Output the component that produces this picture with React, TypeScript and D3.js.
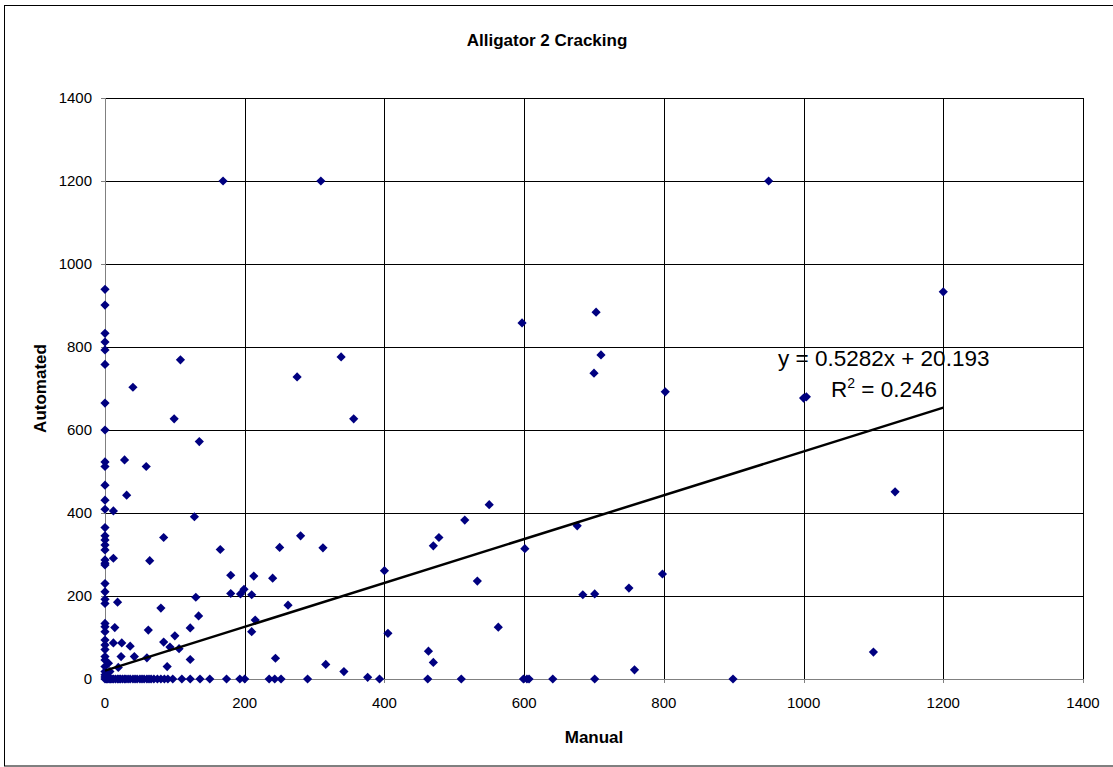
import React from "react";
import * as d3 from "d3";

const title = "Alligator 2 Cracking";
const xLabel = "Manual";
const yLabel = "Automated";
const xTicks = [0, 200, 400, 600, 800, 1000, 1200, 1400];
const yTicks = [0, 200, 400, 600, 800, 1000, 1200, 1400];
const slope = 0.5282;
const intercept = 20.193;
const trendRange = [0, 1200];
const eqLine1 = "y = 0.5282x + 20.193";
const r2Value = "0.246";

// [Manual, Automated] points away from the axes
const scatterPoints: [number, number][] = [
  [169, 1200], [309, 1200], [950, 1200], [1200, 933],
  [40, 703], [99, 627], [108, 769], [135, 572], [28, 528], [59, 512], [31, 443],
  [12, 405], [128, 391], [84, 341], [165, 312], [250, 317], [12, 291], [64, 285],
  [180, 250], [213, 248], [240, 243], [180, 206], [199, 216], [194, 205], [210, 203],
  [130, 197], [18, 185], [262, 178], [80, 171], [134, 152], [215, 142], [210, 114],
  [122, 123], [62, 118], [100, 104], [14, 124], [84, 89], [93, 77], [106, 73],
  [24, 87], [12, 87], [36, 79], [23, 54], [42, 54], [60, 51], [122, 47], [244, 50],
  [89, 30], [19, 28], [5, 38], [7, 18], [2, 10],
  [280, 345], [312, 316], [400, 261], [470, 321], [478, 341], [515, 383], [550, 420],
  [533, 236], [601, 314], [563, 125], [405, 110], [463, 67], [470, 40], [316, 35],
  [342, 18], [376, 4],
  [676, 369], [798, 253], [684, 203], [701, 205], [750, 219], [758, 22],
  [338, 776], [275, 728], [356, 627], [597, 858], [703, 884], [710, 781], [700, 737],
  [802, 692], [1000, 677], [1004, 680], [1131, 451], [1100, 65],
];

// Automated values where Manual = 0
const zeroManualAutomated = [
  939, 901, 833, 812, 793, 758, 665, 600, 523, 512, 467, 431, 409, 365, 345, 335,
  323, 311, 287, 279, 275, 230, 210, 192, 182, 134, 126, 114, 94, 82, 71, 54, 46,
  30, 18, 10, 5, 0,
];

// Manual values where Automated = 0
const zeroAutomatedManual = [
  2, 4, 6, 8, 10, 12, 15, 18, 20, 22, 25, 28, 30, 33, 36, 40, 43, 46, 50, 53, 56,
  60, 63, 66, 70, 75, 80, 85, 90, 97, 110, 122, 136, 150, 174, 193, 200, 235, 243,
  252, 290, 393, 462, 510, 599, 604, 607, 641, 701, 899,
];

const W = 1113;
const H = 767;
const PL = 105, PR = 1083, PT = 98, PB = 679;
const FONT = "'Liberation Sans', Arial, sans-serif";

export default function App() {
  const x = d3.scaleLinear().domain([0, 1400]).range([PL, PR]);
  const y = d3.scaleLinear().domain([0, 1400]).range([PB, PT]);
  const pts: [number, number][] = [
    ...scatterPoints,
    ...zeroManualAutomated.map((v) => [0, v] as [number, number]),
    ...zeroAutomatedManual.map((v) => [v, 0] as [number, number]),
  ];
  const diamond = "M0,-4.6L4.6,0L0,4.6L-4.6,0Z";
  const lineGen = d3
    .line<number>()
    .x((v) => x(v))
    .y((v) => y(slope * v + intercept));

  return (
    <svg
      width={W}
      height={H}
      style={{ position: "absolute", left: 0, top: 0, background: "#fff" }}
      fontFamily={FONT}
    >
      <rect x={0} y={0} width={W} height={H} fill="#fff" />
      <rect x={4.5} y={5.5} width={W + 10} height={760.5} fill="none" stroke="#000" strokeWidth={1} />
      {yTicks.map((t) => (
        <line key={"gy" + t} x1={PL} x2={PR} y1={Math.round(y(t)) + 0.5} y2={Math.round(y(t)) + 0.5} stroke="#000" strokeWidth={1} />
      ))}
      {xTicks.map((t) => (
        <line key={"gx" + t} x1={Math.round(x(t)) + 0.5} x2={Math.round(x(t)) + 0.5} y1={PT} y2={PB} stroke="#000" strokeWidth={1} />
      ))}
      <line x1={PL + 0.5} x2={PL + 0.5} y1={PT} y2={PB + 0.5} stroke="#808080" strokeWidth={1} />
      <line x1={PL} x2={PR} y1={PB + 0.5} y2={PB + 0.5} stroke="#808080" strokeWidth={1} />
      {yTicks.map((t) => (
        <line key={"ty" + t} x1={PL - 4} x2={PL} y1={Math.round(y(t)) + 0.5} y2={Math.round(y(t)) + 0.5} stroke="#808080" />
      ))}
      {xTicks.map((t) => (
        <line key={"tx" + t} x1={Math.round(x(t)) + 0.5} x2={Math.round(x(t)) + 0.5} y1={PB} y2={PB + 4} stroke="#808080" />
      ))}
      {yTicks.map((t) => (
        <text key={"ly" + t} x={PL - 13} y={y(t) + 5} textAnchor="end" fontSize={15} fill="#000">
          {t}
        </text>
      ))}
      {xTicks.map((t) => (
        <text key={"lx" + t} x={x(t)} y={PB + 29} textAnchor="middle" fontSize={15} fill="#000">
          {t}
        </text>
      ))}
      {pts.map((p, i) => (
        <path key={"p" + i} d={diamond} transform={`translate(${x(p[0])},${y(p[1])})`} fill="#000080" />
      ))}
      <path d={lineGen(trendRange) || ""} stroke="#000" strokeWidth={2.5} fill="none" />
      <text x={778} y={366} fontSize={22.5} fill="#000">{eqLine1}</text>
      <text x={831} y={397} fontSize={22.5} fill="#000">
        R<tspan dy={-9} fontSize={14}>2</tspan>
        <tspan dy={9}> = {r2Value}</tspan>
      </text>
      <text x={547} y={46} textAnchor="middle" fontSize={17} fontWeight="bold" fill="#000">
        {title}
      </text>
      <text x={(PL + PR) / 2} y={743} textAnchor="middle" fontSize={17} fontWeight="bold" fill="#000">
        {xLabel}
      </text>
      <text
        transform={`translate(${46},${(PT + PB) / 2}) rotate(-90)`}
        textAnchor="middle"
        fontSize={17}
        fontWeight="bold"
        fill="#000"
      >
        {yLabel}
      </text>
    </svg>
  );
}
